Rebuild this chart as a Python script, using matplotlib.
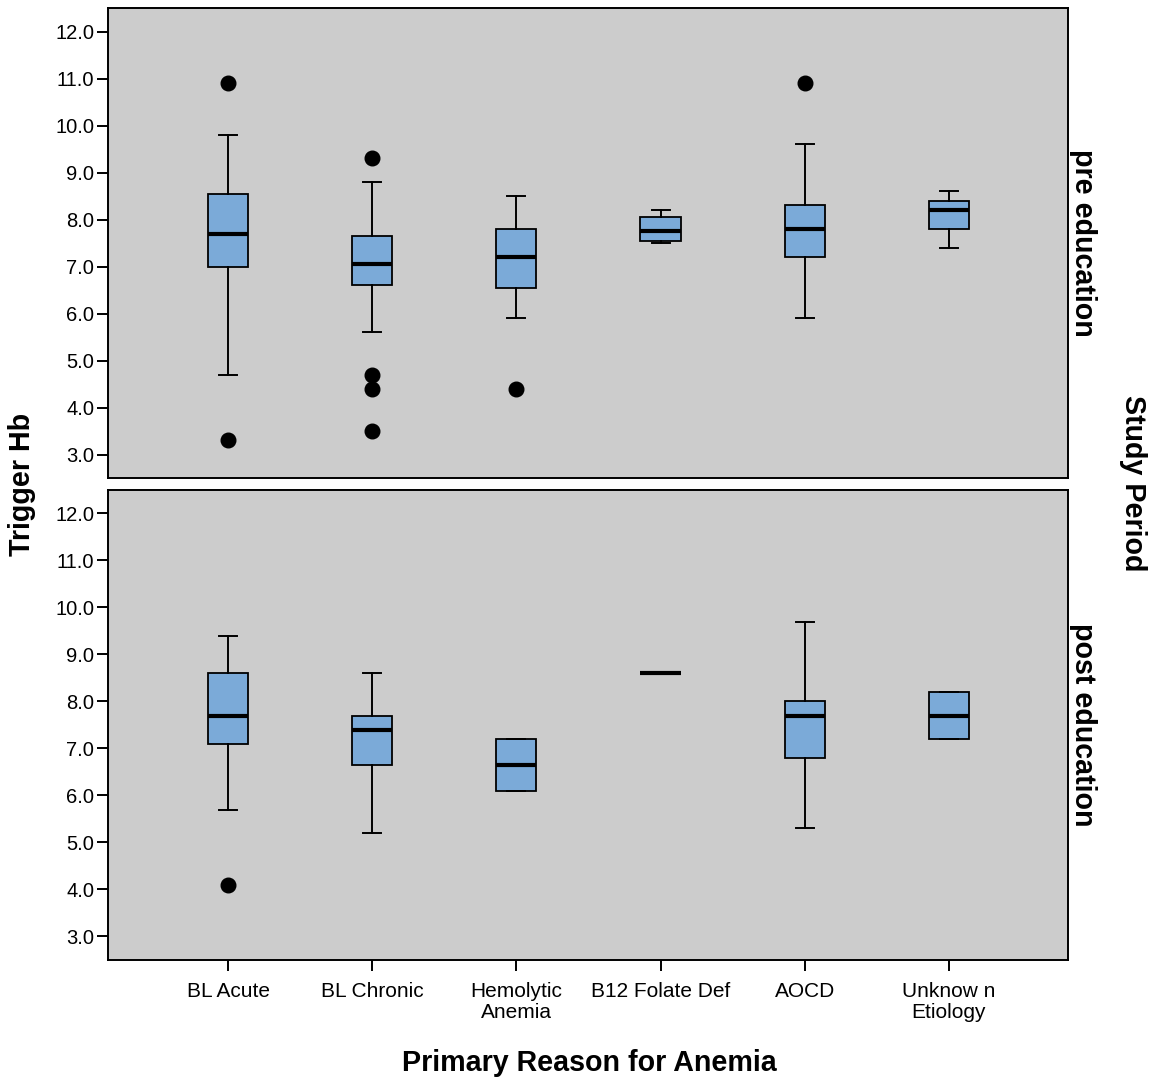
import matplotlib.pyplot as plt

plt.rcParams['font.family'] = ['Liberation Sans', 'DejaVu Sans']

categories = ['BL Acute', 'BL Chronic', 'Hemolytic\nAnemia', 'B12 Folate Def', 'AOCD', 'Unknow n\nEtiology']
periods = ['pre education', 'post education']

# box statistics per period: whisker low, q1, median, q3, whisker high, outliers
pre_whislo = [4.7, 5.6, 5.9, 7.5, 5.9, 7.4]
pre_q1 = [7.0, 6.6, 6.55, 7.55, 7.2, 7.8]
pre_med = [7.7, 7.05, 7.2, 7.75, 7.8, 8.2]
pre_q3 = [8.55, 7.65, 7.8, 8.05, 8.3, 8.4]
pre_whishi = [9.8, 8.8, 8.5, 8.2, 9.6, 8.6]
pre_fliers = [[10.9, 3.3], [9.3, 4.7, 4.4, 3.5], [4.4], [], [10.9], []]

post_whislo = [5.7, 5.2, 6.1, 8.6, 5.3, 7.2]
post_q1 = [7.1, 6.65, 6.1, 8.6, 6.8, 7.2]
post_med = [7.7, 7.4, 6.65, 8.6, 7.7, 7.7]
post_q3 = [8.6, 7.7, 7.2, 8.6, 8.0, 8.2]
post_whishi = [9.4, 8.6, 7.2, 8.6, 9.7, 8.2]
post_fliers = [[4.1], [], [], [], [], []]

yticks = [3, 4, 5, 6, 7, 8, 9, 10, 11, 12]


def make_stats(lo, q1, med, q3, hi, fl):
    return [dict(whislo=a, q1=b, med=c, q3=d, whishi=e, fliers=f)
            for a, b, c, d, e, f in zip(lo, q1, med, q3, hi, fl)]


all_stats = [
    make_stats(pre_whislo, pre_q1, pre_med, pre_q3, pre_whishi, pre_fliers),
    make_stats(post_whislo, post_q1, post_med, post_q3, post_whishi, post_fliers),
]

fig = plt.figure(figsize=(11.56, 10.82), dpi=100)
ax_top = fig.add_axes([0.0934, 0.5582, 0.8304, 0.4344])
ax_bot = fig.add_axes([0.0934, 0.1128, 0.8304, 0.4344])

box_color = '#7baad8'
pos = list(range(len(categories)))

for ax, stats, period in zip([ax_top, ax_bot], all_stats, periods):
    ax.set_facecolor('#cccccc')
    ax.bxp(stats, positions=pos, widths=0.278, patch_artist=True,
           showfliers=True,
           boxprops=dict(facecolor=box_color, edgecolor='black', linewidth=1.3),
           medianprops=dict(color='black', linewidth=3),
           whiskerprops=dict(color='black', linewidth=1.4),
           capprops=dict(color='black', linewidth=1.4),
           capwidths=0.125,
           flierprops=dict(marker='o', markerfacecolor='black', markeredgecolor='black',
                           markersize=10.5))
    ax.set_xlim(-0.833, 5.826)
    ax.set_ylim(2.5, 12.5)
    ax.set_yticks(yticks)
    ax.set_yticklabels([f'{v:.1f}' for v in yticks])
    ax.tick_params(axis='y', direction='out', length=8, width=1.4, labelsize=14.5, pad=2)
    for s in ax.spines.values():
        s.set_linewidth(1.4)
    ax.text(1.0155, 0.5, period, transform=ax.transAxes, rotation=-90,
            ha='center', va='center', fontsize=20.6, fontweight='bold')

ax_top.set_xticks([])
ax_bot.set_xticks(pos)
ax_bot.set_xticklabels(categories, fontsize=15, linespacing=1.1)
ax_bot.tick_params(axis='x', direction='out', length=8, width=1.4, pad=8)

fig.text(0.019, 0.552, 'Trigger Hb', rotation=90, ha='center', va='center',
         fontsize=20.6, fontweight='bold')
fig.text(0.98, 0.553, 'Study Period', rotation=-90, ha='center', va='center',
         fontsize=20.6, fontweight='bold')
fig.text(0.51, 0.018, 'Primary Reason for Anemia', ha='center', va='center',
         fontsize=20.6, fontweight='bold')

fig.savefig('out.png', dpi=100)
